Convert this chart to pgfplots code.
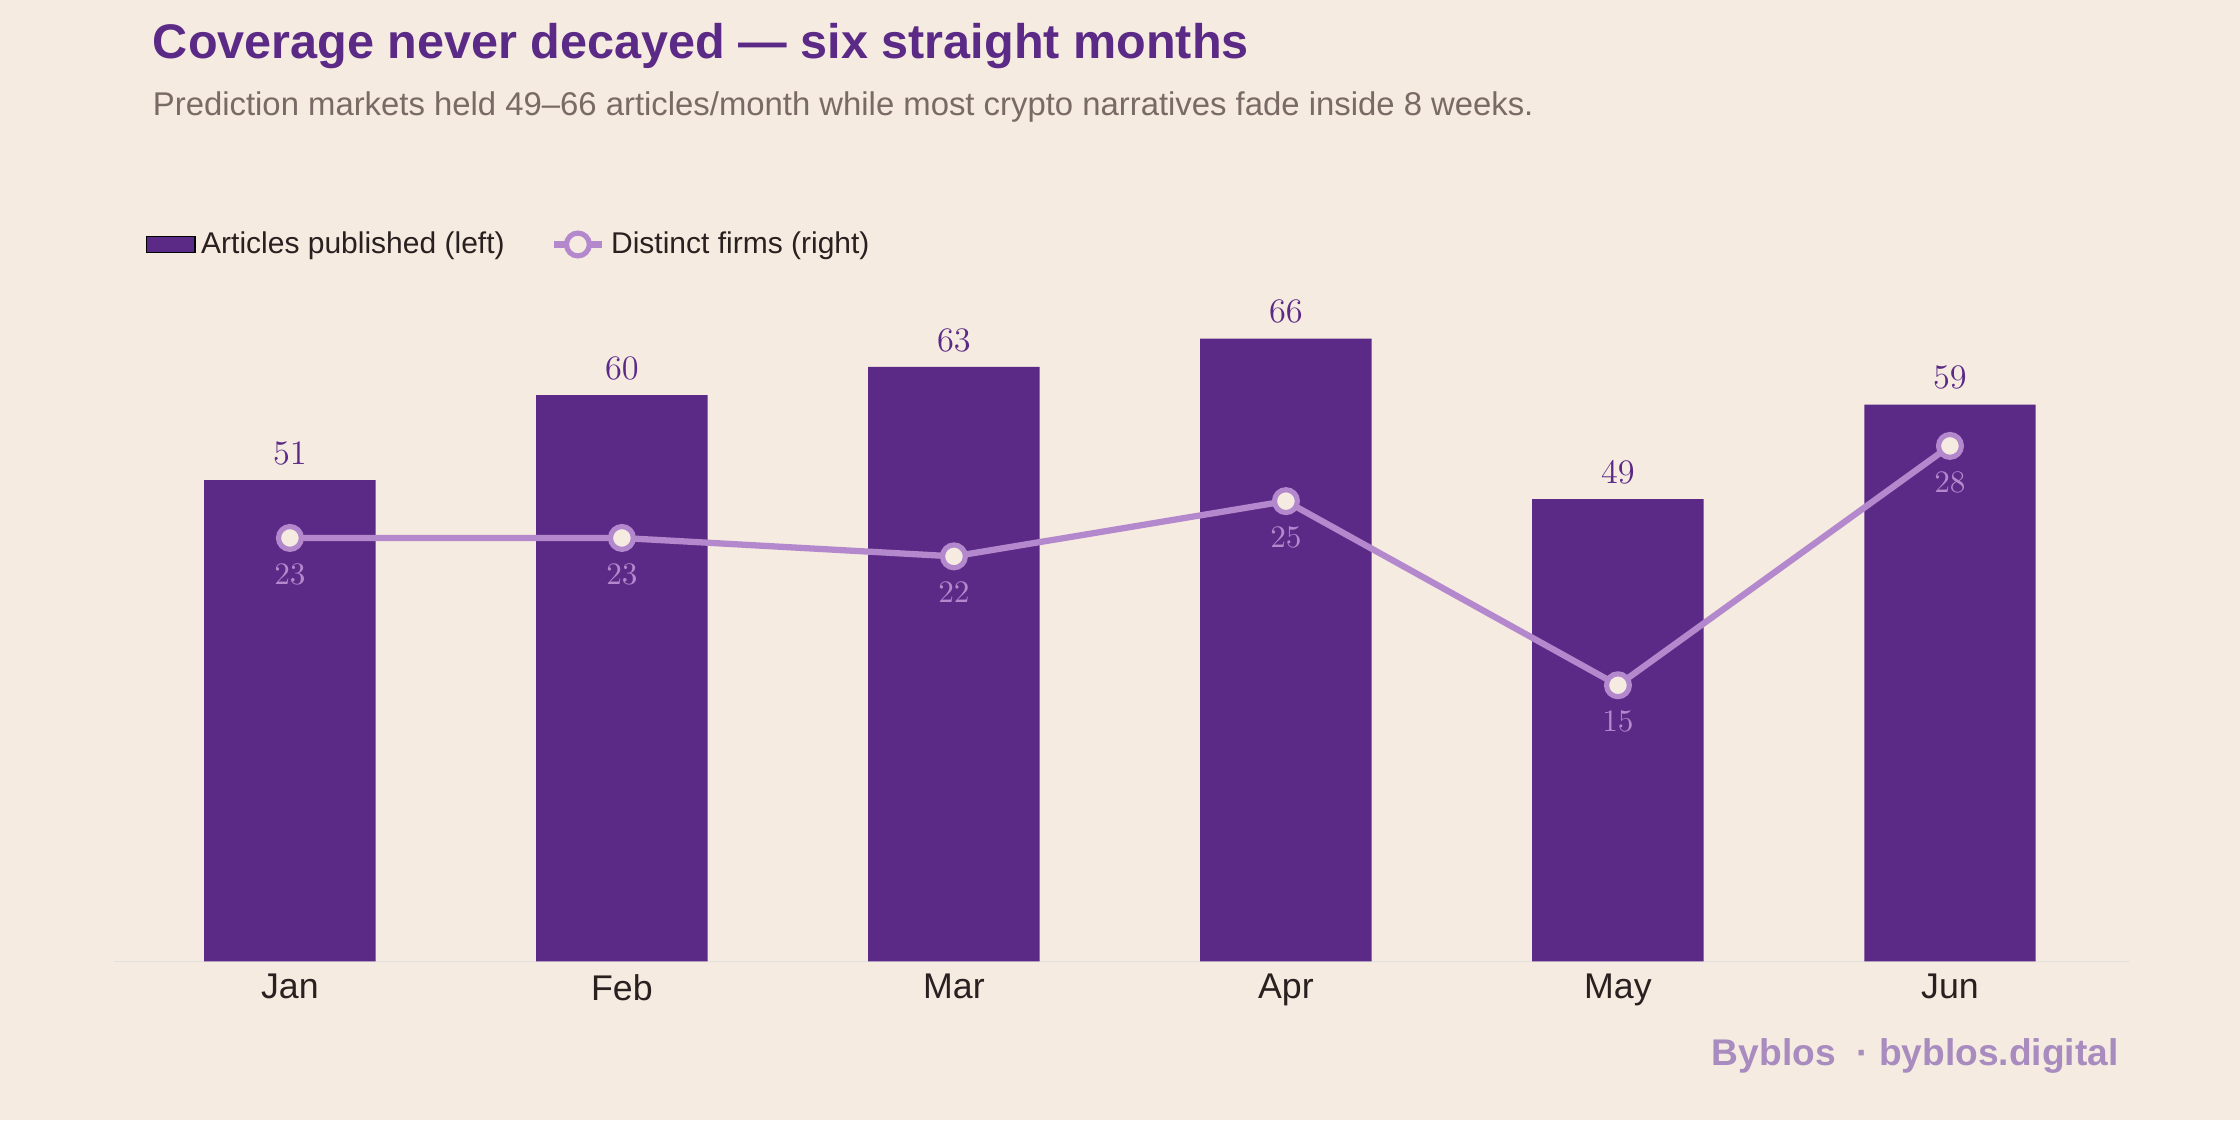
\documentclass[border=0pt]{standalone}
\usepackage{pgfplots}
\pgfplotsset{compat=1.18}
\usepackage{fontspec}
\setmainfont{Liberation Sans}
\definecolor{bg}{HTML}{F5EBE0}
\definecolor{barc}{HTML}{5B2A86}
\definecolor{linec}{HTML}{B388CC}
\definecolor{subc}{HTML}{7A6A66}
\definecolor{footc}{HTML}{A88BBF}
\definecolor{txt}{HTML}{2A2020}
\begin{document}
\begin{tikzpicture}
\fill[bg] (0,0) rectangle (784pt,392pt);
\node[anchor=west,text=barc,font=\fontsize{17}{20}\selectfont\bfseries] at (50pt,376pt) {Coverage never decayed — six straight months};
\node[anchor=west,text=subc,font=\fontsize{11.5}{14}\selectfont] at (50pt,354.5pt) {Prediction markets held 49–66 articles/month while most crypto narratives fade inside 8 weeks.};
\node[anchor=east,text=footc,font=\fontsize{13}{15}\selectfont\bfseries] at (745pt,22.5pt) {Byblos \ · byblos.digital};
\begin{axis}[at={(40pt,55.5pt)},anchor=south west,scale only axis,width=705pt,height=236.5pt,
  xmin=-0.529,xmax=5.538,ymin=0,ymax=71.6,
  axis y line=none, axis x line*=bottom, x axis line style={draw=black!12,-},
  xtick={0,...,5}, xticklabels={Jan,Feb,Mar,Apr,May,Jun}, major tick length=0,
  xticklabel style={font=\fontsize{12.5}{14}\selectfont,text=txt,yshift=-1pt},
  ybar, bar width=60pt, nodes near coords,
  every node near coord/.append style={font=\fontsize{12.5}{14}\selectfont\bfseries,text=barc,yshift=2pt}]
\addplot[fill=barc,draw=none] coordinates {(0,51) (1,60) (2,63) (3,66) (4,49) (5,59)};
\end{axis}
\begin{axis}[at={(40pt,55.5pt)},anchor=south west,scale only axis,width=705pt,height=236.5pt,
  xmin=-0.529,xmax=5.538,ymin=0,ymax=36.7, axis lines=none,
  legend columns=2, legend style={at={(0.011,1.061)},anchor=west,draw=none,fill=none,
   font=\fontsize{10.5}{12}\selectfont, text=txt, /tikz/every even column/.append style={column sep=14pt}},
  legend cell align=left]
\addlegendimage{area legend,fill=barc,draw=none}
\addlegendentry{Articles published (left)}
\addplot[linec,line width=2.2pt,mark=*,mark size=4pt,mark options={fill=bg,draw=linec,line width=1.8pt},
  nodes near coords, every node near coord/.append style={font=\fontsize{11}{13}\selectfont\bfseries,text=linec,anchor=north,yshift=-5pt}]
 coordinates {(0,23) (1,23) (2,22) (3,25) (4,15) (5,28)};
\addlegendentry{Distinct firms (right)}
\end{axis}
\end{tikzpicture}
\end{document}
